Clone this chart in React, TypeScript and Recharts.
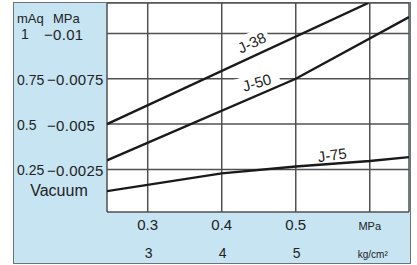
import React from "react";
import {
  LineChart,
  Line,
  XAxis,
  YAxis,
  CartesianGrid,
  ReferenceArea,
  ReferenceDot,
} from "recharts";

/* ------------------------------------------------------------------ */
/*  DATA                                      */
/* ------------------------------------------------------------------ */

// x: supply pressure (MPa), y: vacuum (mAq)
const J38_X = [0.245, 0.598];
const J38_Y = [0.5, 1.168];

const J50_X = [0.245, 0.5, 0.653];
const J50_Y = [0.3, 0.75, 1.09];

const J75_X = [0.245, 0.4, 0.5, 0.6, 0.653];
const J75_Y = [0.13, 0.228, 0.266, 0.296, 0.318];

const X_TICKS = [0.3, 0.4, 0.5, 0.6];
const X_MPA_LABELS = ["0.3", "0.4", "0.5", "MPa"];
const X_KG_LABELS = ["3", "4", "5", "kg/cm²"];

const Y_TICKS = [0.25, 0.5, 0.75, 1];
const Y_MAQ_LABELS = ["0.25", "0.5", "0.75", "1"];
const Y_MPA_LABELS = ["−0.0025", "−0.005", "−0.0075", "−0.01"];

const SERIES = [
  { name: "J-38", xs: J38_X, ys: J38_Y },
  { name: "J-50", xs: J50_X, ys: J50_Y },
  { name: "J-75", xs: J75_X, ys: J75_Y },
];

// where each curve name sits (data coords) and its tilt
const CURVE_LABELS = [
  { name: "J-38", x: 0.44, y: 0.955, angle: -25, w: 36, h: 18 },
  { name: "J-50", x: 0.447, y: 0.735, angle: -16, w: 46, h: 16 },
  { name: "J-75", x: 0.549, y: 0.336, angle: -8, w: 34, h: 14 },
];

const toPoints = (xs: number[], ys: number[]) =>
  xs.map((x, i) => ({ x, y: ys[i] }));

const FONT = "Arial, 'Liberation Sans', Helvetica, sans-serif";
const INK = "#222";

// eslint-disable-next-line @typescript-eslint/no-explicit-any
function XTick(props: any) {
  const { x, payload } = props;
  const i = X_TICKS.indexOf(payload.value);
  const isUnit = i === X_TICKS.length - 1;
  return (
    <g fontFamily={FONT} fill={INK}>
      <text x={x} y={230} textAnchor="middle" fontSize={isUnit ? 11 : 15}>
        {X_MPA_LABELS[i]}
      </text>
      <text x={x + (isUnit ? 3 : 1)} y={258} textAnchor="middle" fontSize={isUnit ? 10 : 14}>
        {X_KG_LABELS[i]}
      </text>
    </g>
  );
}

// eslint-disable-next-line @typescript-eslint/no-explicit-any
function YTick(props: any) {
  const { y, payload } = props;
  const i = Y_TICKS.indexOf(payload.value);
  const isTop = i === Y_TICKS.length - 1;
  const isBottom = i === 0;
  return (
    <g fontFamily={FONT} fill={INK}>
      {isTop && (
        <>
          <text x={17} y={y - 15} fontSize={13} dominantBaseline="central">mAq</text>
          <text x={53} y={y - 15} fontSize={13} dominantBaseline="central">MPa</text>
        </>
      )}
      <text x={isTop ? 21 : 17} y={y + 1} fontSize={14} dominantBaseline="central">
        {Y_MAQ_LABELS[i]}
      </text>
      <text
        x={isTop ? 44 : 47}
        y={y + 1}
        fontSize={15}
        letterSpacing={0.3}
        dominantBaseline="central"
      >
        {Y_MPA_LABELS[i]}
      </text>
      {isBottom && (
        <text x={59} y={y + 21} fontSize={16} textAnchor="middle" dominantBaseline="central">
          Vacuum
        </text>
      )}
    </g>
  );
}

function curveLabel(name: string, angle: number, w: number, h: number) {
  // eslint-disable-next-line @typescript-eslint/no-explicit-any
  return (p: any) => (
    <g transform={`translate(${p.cx},${p.cy}) rotate(${angle})`}>
      <rect x={-w / 2} y={-h / 2} width={w} height={h} fill="#fff" />
      <text
        x={0}
        y={1}
        textAnchor="middle"
        dominantBaseline="central"
        fontSize={15}
        fontFamily={FONT}
        fill={INK}
      >
        {name}
      </text>
    </g>
  );
}

export default function App() {
  return (
    <div style={{ position: "absolute", left: 0, top: 0, width: 417, height: 265 }}>
      <div
        style={{
          position: "absolute",
          left: 13,
          top: 2,
          width: 398,
          height: 262,
          background: "#c7e4f2",
          border: "1.5px solid #6b7378",
          boxSizing: "border-box",
        }}
      />
      <div style={{ position: "absolute", left: 0, top: 0 }}>
        <LineChart
          width={417}
          height={265}
          margin={{ top: 3, right: 8, bottom: 0, left: 0 }}
        >
          <CartesianGrid stroke="#505050" strokeWidth={1.5} fill="#fff" fillOpacity={1} />
          <XAxis
            dataKey="x"
            type="number"
            domain={[0.245, 0.653]}
            allowDataOverflow
            ticks={X_TICKS}
            height={53}
            axisLine={false}
            tickLine={false}
            tick={<XTick />}
          />
          <YAxis
            type="number"
            domain={[0.015, 1.168]}
            allowDataOverflow
            ticks={Y_TICKS}
            width={107}
            axisLine={false}
            tickLine={false}
            tick={<YTick />}
          />
          <ReferenceArea fill="none" stroke="#505050" strokeWidth={1.6} />
          {SERIES.map((s) => (
            <Line
              key={s.name}
              data={toPoints(s.xs, s.ys)}
              dataKey="y"
              name={s.name}
              stroke="#1a1a1a"
              strokeWidth={2.4}
              dot={false}
              isAnimationActive={false}
            />
          ))}
          {CURVE_LABELS.map((c) => (
            <ReferenceDot
              key={c.name}
              x={c.x}
              y={c.y}
              r={0}
              shape={curveLabel(c.name, c.angle, c.w, c.h)}
            />
          ))}
        </LineChart>
      </div>
    </div>
  );
}
